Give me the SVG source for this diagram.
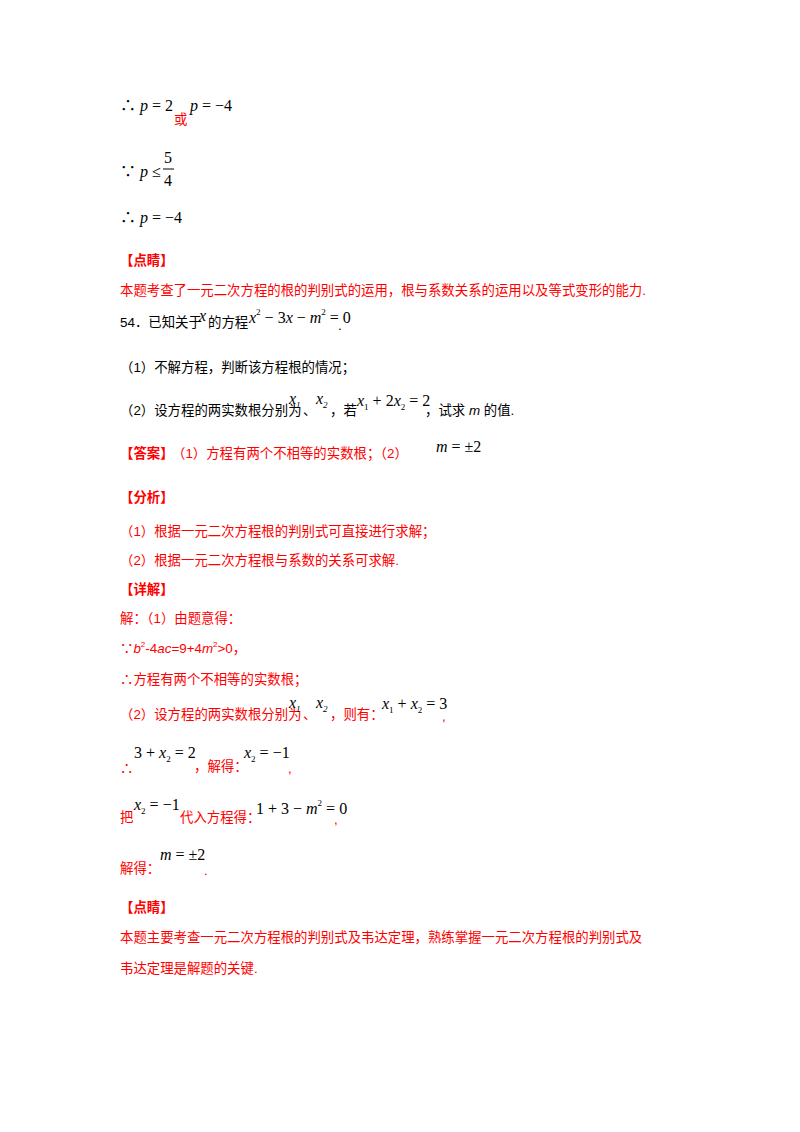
<svg xmlns="http://www.w3.org/2000/svg" width="800" height="1132" viewBox="0 0 800 1132">
<style>
.c{font-family:"Liberation Sans","Noto Sans CJK SC",sans-serif;font-size:13.4px;fill:#000}
.r{fill:#ff0000}
.b{font-weight:bold}
.m{font-family:"Liberation Serif","Noto Sans CJK SC",serif;font-size:16px;fill:#000}
.i{font-style:italic}
.s{font-size:9px}
</style>
<rect width="800" height="1132" fill="#fff"/>
<g id="top">
<text class="m" x="120" y="111">∴ <tspan class="i">p</tspan> = 2</text>
<text class="c r" x="174" y="124">或</text>
<text class="m" x="190" y="111"><tspan class="i">p</tspan> = −4</text>
<text class="m" x="120" y="177">∵ <tspan class="i">p</tspan> ≤</text>
<text class="m" x="164" y="163">5</text>
<line x1="163" y1="169" x2="174" y2="169" stroke="#000" stroke-width="1"/>
<text class="m" x="164" y="186">4</text>
<text class="m" x="120" y="223">∴ <tspan class="i">p</tspan> = −4</text>
<text class="c r b" x="120" y="265">【点睛】</text>
<text class="c r" x="120" y="295">本题考查了一元二次方程的根的判别式的运用，根与系数关系的运用以及等式变形的能力.</text>
</g>
<g id="q">
<text class="c" x="120" y="327">54．已知关于</text>
<text class="m i" x="199" y="321">x</text>
<text class="c" x="208" y="327">的方程</text>
<text class="m" x="249" y="323"><tspan class="i">x</tspan><tspan class="s" dy="-8">2</tspan><tspan dy="8"> − 3</tspan><tspan class="i">x</tspan> − <tspan class="i">m</tspan><tspan class="s" dy="-8">2</tspan><tspan dy="8"> = 0</tspan></text>
<text class="c" x="338" y="330">.</text>
<text class="c" x="120" y="372">（1）不解方程，判断该方程根的情况；</text>
<text class="c" x="120" y="415">（2）设方程的两实数根分别为</text>
<text class="m i" x="289" y="404">x<tspan class="s" dy="4">1</tspan></text>
<text class="c" x="303" y="415">、</text>
<text class="m i" x="316" y="404">x<tspan class="s" dy="4">2</tspan></text>
<text class="c" x="330" y="415">，若</text>
<text class="m" x="357" y="406"><tspan class="i">x</tspan><tspan class="s" dy="4">1</tspan><tspan dy="-4"> + 2</tspan><tspan class="i">x</tspan><tspan class="s" dy="4">2</tspan><tspan dy="-4"> = 2</tspan></text>
<text class="c" x="425" y="415">，试求 <tspan font-style="italic">m</tspan> 的值.</text>
<text class="c r b" x="120" y="458">【答案】</text>
<text class="c r" x="172" y="458">（1）方程有两个不相等的实数根；（2）</text>
<text class="m" x="436" y="452"><tspan class="i">m</tspan> = ±2</text>
</g>
<g id="sol">
<text class="c r b" x="120" y="502">【分析】</text>
<text class="c r" x="120" y="536">（1）根据一元二次方程根的判别式可直接进行求解；</text>
<text class="c r" x="120" y="565">（2）根据一元二次方程根与系数的关系可求解.</text>
<text class="c r b" x="120" y="594">【详解】</text>
<text class="c r" x="120" y="623">解：（1）由题意得：</text>
<text class="c r" x="120" y="653">∵<tspan font-style="italic">b</tspan><tspan font-size="8" dy="-6">2</tspan><tspan dy="6">-4</tspan><tspan font-style="italic">ac</tspan>=9+4<tspan font-style="italic">m</tspan><tspan font-size="8" dy="-6">2</tspan><tspan dy="6">&gt;0，</tspan></text>
<text class="c r" x="120" y="684">∴方程有两个不相等的实数根；</text>
<text class="c r" x="120" y="719">（2）设方程的两实数根分别为</text>
<text class="m i" x="289" y="708">x<tspan class="s" dy="4">1</tspan></text>
<text class="c r" x="303" y="719">、</text>
<text class="m i" x="316" y="708">x<tspan class="s" dy="4">2</tspan></text>
<text class="c r" x="330" y="719">，则有：</text>
<text class="m" x="382" y="709"><tspan class="i">x</tspan><tspan class="s" dy="4">1</tspan><tspan dy="-4"> + </tspan><tspan class="i">x</tspan><tspan class="s" dy="4">2</tspan><tspan dy="-4"> = 3</tspan></text>
<text class="c r" x="442" y="721">,</text>
<text class="c r" x="120" y="773">∴</text>
<text class="m" x="134" y="758">3 + <tspan class="i">x</tspan><tspan class="s" dy="4">2</tspan><tspan dy="-4"> = 2</tspan></text>
<text class="c r" x="194" y="771">，解得：</text>
<text class="m" x="244" y="758"><tspan class="i">x</tspan><tspan class="s" dy="4">2</tspan><tspan dy="-4"> = −1</tspan></text>
<text class="c r" x="288" y="773">,</text>
<text class="c r" x="120" y="822">把</text>
<text class="m" x="134" y="810"><tspan class="i">x</tspan><tspan class="s" dy="4">2</tspan><tspan dy="-4"> = −1</tspan></text>
<text class="c r" x="180" y="822">代入方程得：</text>
<text class="m" x="256" y="814">1 + 3 − <tspan class="i">m</tspan><tspan class="s" dy="-8">2</tspan><tspan dy="8"> = 0</tspan></text>
<text class="c r" x="334" y="824">,</text>
<text class="c r" x="120" y="873">解得：</text>
<text class="m" x="160" y="860"><tspan class="i">m</tspan> = ±2</text>
<text class="c r" x="204" y="875">.</text>
<text class="c r b" x="120" y="912">【点睛】</text>
<text class="c r" x="120" y="942">本题主要考查一元二次方程根的判别式及韦达定理，熟练掌握一元二次方程根的判别式及</text>
<text class="c r" x="120" y="973">韦达定理是解题的关键.</text>
</g>
</svg>
